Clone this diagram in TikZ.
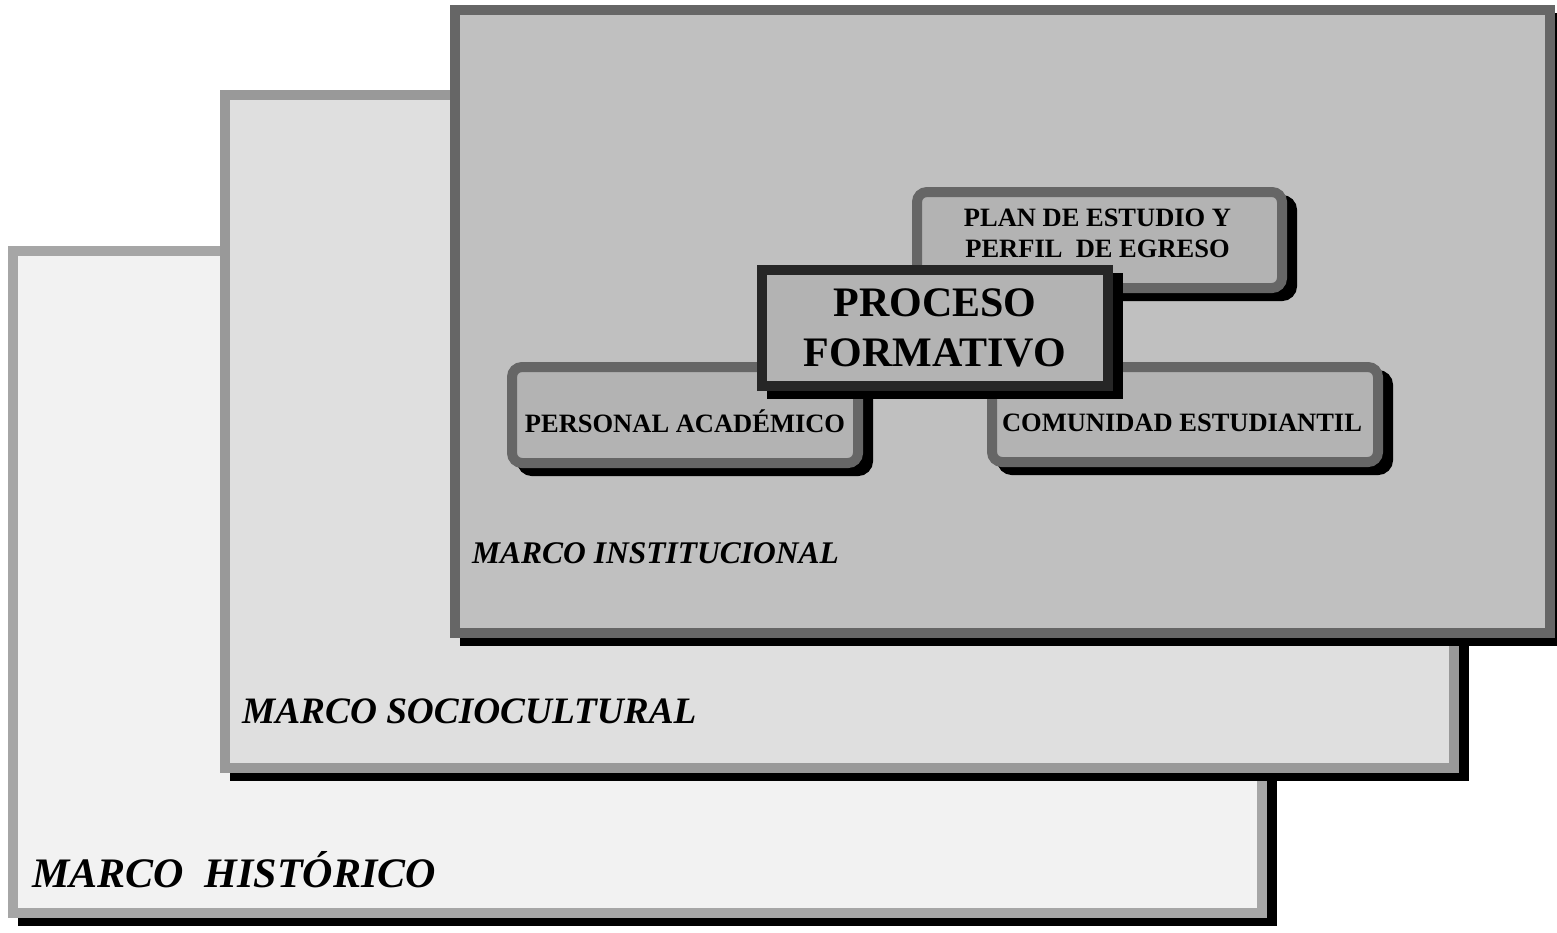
\documentclass[tikz,border=0pt]{standalone}
\usepackage{fontspec}
\setmainfont{Liberation Serif}
\definecolor{fillA}{HTML}{F2F2F2}
\definecolor{edgeA}{HTML}{A6A6A6}
\definecolor{fillB}{HTML}{DFDFDF}
\definecolor{edgeB}{HTML}{999999}
\definecolor{fillC}{HTML}{C0C0C0}
\definecolor{edgeC}{HTML}{666666}
\definecolor{boxfill}{HTML}{B3B3B3}
\definecolor{procedge}{HTML}{262626}
\begin{document}
\begin{tikzpicture}[x=1pt,y=-1pt,
  framebox/.style={rectangle, inner sep=0pt, line width=10pt},
  shade/.style={fill=black, draw=black, line width=10pt, inner sep=0pt},
  roundbox/.style={rectangle, rounded corners=10pt, inner sep=0pt, line width=10pt, fill=boxfill, draw=edgeC},
  roundshade/.style={rectangle, rounded corners=10pt, fill=black, draw=black, line width=10pt, inner sep=0pt},
  boxtext/.style={inner sep=0pt, font=\fontsize{26.5}{31}\selectfont\bfseries, align=center},
  marco/.style={inner sep=0pt, anchor=base west, font=\bfseries\itshape}]
\useasboundingbox[fill=white] (0,0) rectangle (1557,932);
% Marco historico
\node[shade, minimum width=1249pt, minimum height=662pt] (shA) at (647.5,590) {};
\node[framebox, fill=fillA, draw=edgeA, minimum width=1249pt, minimum height=662pt] (frA) at (637.5,582) {};
% Marco sociocultural
\node[shade, minimum width=1229pt, minimum height=673pt] (shB) at (849.5,439.5) {};
\node[framebox, fill=fillB, draw=edgeB, minimum width=1229pt, minimum height=673pt] (frB) at (839.5,431.5) {};
% Marco institucional
\node[shade, minimum width=1095pt, minimum height=623pt] (shC) at (1012.5,329.5) {};
\node[framebox, fill=fillC, draw=edgeC, minimum width=1095pt, minimum height=623pt] (frC) at (1002.5,321.5) {};
% inner boxes
\node[roundshade, minimum width=365pt, minimum height=96pt] (shPlan) at (1109.5,248) {};
\node[roundbox, minimum width=365pt, minimum height=96pt] (plan) at (1099.5,240) {};
\node[roundshade, minimum width=346pt, minimum height=96pt] (shPers) at (695,423) {};
\node[roundbox, minimum width=346pt, minimum height=96pt] (pers) at (685,415) {};
\node[roundshade, minimum width=386pt, minimum height=95pt] (shCom) at (1195,422.5) {};
\node[roundbox, minimum width=386pt, minimum height=95pt] (com) at (1185,414.5) {};
\node[shade, minimum width=346pt, minimum height=116pt] (shProc) at (945,336) {};
\node[framebox, fill=boxfill, draw=procedge, minimum width=346pt, minimum height=116pt] (proc) at (935,328) {};
% texts
\node[boxtext] (planT) at (1097.5,233) {PLAN DE ESTUDIO Y\\PERFIL~~DE EGRESO};
\node[boxtext, anchor=base] (persT) at (685,432) {PERSONAL ACADÉMICO};
\node[boxtext, anchor=base] (comT) at (1182,431) {COMUNIDAD ESTUDIANTIL};
\node[inner sep=0pt, align=center, font=\fontsize{42}{50}\selectfont\bfseries] (procT) at (935,328) {PROCESO\\FORMATIVO};
\node[marco, font=\fontsize{31.5}{36}\selectfont\bfseries\itshape] (mC) at (472,563) {MARCO INSTITUCIONAL};
\node[marco, font=\fontsize{37.3}{42}\selectfont\bfseries\itshape] (mB) at (242,723) {MARCO SOCIOCULTURAL};
\node[marco, font=\fontsize{42}{48}\selectfont\bfseries\itshape] (mA) at (32,887) {MARCO~~HISTÓRICO};
\end{tikzpicture}
\end{document}
